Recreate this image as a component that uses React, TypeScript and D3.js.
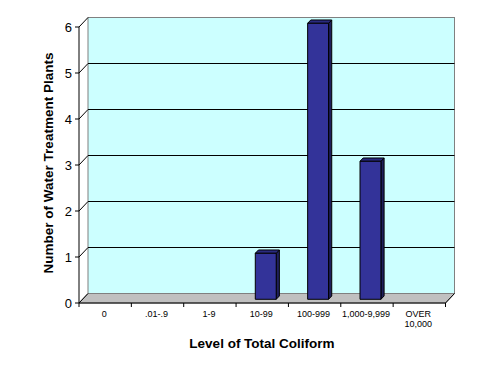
import React from 'react';
import * as d3 from 'd3';

const categories = ['0', '.01-.9', '1-9', '10-99', '100-999', '1,000-9,999', 'OVER\n10,000'];
const plantCounts = [0, 0, 0, 1, 6, 3, 0];
const yTicks = [0, 1, 2, 3, 4, 5, 6];

const W = 491;
const H = 374;
// 3D depth offset of the back wall
const DX = 9;
const DY = -9.5;

export default function App() {
  const x = d3.scaleBand<string>().domain(categories).range([79, 445.5]);
  const y = d3.scaleLinear().domain([0, 6]).range([303, 27]);

  const x0 = 79, x1 = 445.5;
  const y0 = y(0), yTop = y(6);

  // bars sit in the middle of the depth
  const fFront = 0.39, fBack = 0.74;
  const barW = x.bandwidth() * 0.4;

  const pts = (a: [number, number][]) => a.map(p => p.join(',')).join(' ');

  return (
    <svg width={W} height={H} style={{ position: 'absolute', left: 0, top: 0, background: '#fff' }}
      fontFamily="Arial, 'Liberation Sans', sans-serif">
      {/* back wall */}
      <rect x={x0 + DX} y={yTop + DY} width={x1 - x0} height={y0 - yTop} fill="#CCFFFF" stroke="#808080" strokeWidth={1} />
      {/* floor */}
      <polygon points={pts([[x0, y0], [x1, y0], [x1 + DX, y0 + DY], [x0 + DX, y0 + DY]])} fill="#C0C0C0" stroke="#808080" strokeWidth={1} />
      <line x1={x1} y1={y0} x2={x1 + DX} y2={y0 + DY} stroke="#000" />
      {/* gridlines with side-wall diagonals */}
      {yTicks.map(t => (
        <g key={t}>
          {t > 0 && t < 6 && (
            <line x1={x0 + DX} x2={x1 + DX} y1={y(t) + DY} y2={y(t) + DY} stroke="#000" strokeWidth={1} />
          )}
          <line x1={x0} y1={y(t)} x2={x0 + DX} y2={y(t) + DY} stroke="#000" strokeWidth={1} />
          <line x1={x0 - 4} x2={x0} y1={y(t)} y2={y(t)} stroke="#000" />
          <text x={x0 - 7} y={y(t)} dy="0.36em" textAnchor="end" fontSize={13}>{t}</text>
        </g>
      ))}
      {/* bars */}
      {categories.map((c, i) => {
        const v = plantCounts[i];
        if (!v) return null;
        const cx = (x(c) ?? 0) + x.bandwidth() / 2;
        const fx = cx - barW / 2 + DX * fFront;
        const fy0 = y0 + DY * fFront;
        const fyTop = y(v) + DY * fFront;
        const ddx = DX * (fBack - fFront);
        const ddy = DY * (fBack - fFront);
        return (
          <g key={c} stroke="#000" strokeWidth={1} strokeLinejoin="round">
            <polygon points={pts([[fx + barW, fy0], [fx + barW + ddx, fy0 + ddy], [fx + barW + ddx, fyTop + ddy], [fx + barW, fyTop]])} fill="#1f1f5c" />
            <polygon points={pts([[fx, fyTop], [fx + barW, fyTop], [fx + barW + ddx, fyTop + ddy], [fx + ddx, fyTop + ddy]])} fill="#2a2a80" />
            <rect x={fx} y={fyTop} width={barW} height={fy0 - fyTop} fill="#333399" />
          </g>
        );
      })}
      {/* front axes */}
      <line x1={x0} x2={x0} y1={yTop} y2={y0} stroke="#000" />
      <line x1={x0} x2={x1} y1={y0} y2={y0} stroke="#000" />
      {categories.map(c => (
        <line key={c} x1={x(c)! + x.bandwidth()} x2={x(c)! + x.bandwidth()} y1={y0} y2={y0 + 4} stroke="#000" />
      ))}
      <line x1={x0} x2={x0} y1={y0} y2={y0 + 4} stroke="#000" />
      {categories.map(c => (
        <text key={c} x={(x(c) ?? 0) + x.bandwidth() / 2 - 1} y={314} textAnchor="middle" fontSize={9}>
          {c.split('\n').map((line, k) => (
            <tspan key={k} x={(x(c) ?? 0) + x.bandwidth() / 2 - 1} dy={k === 0 ? '0.35em' : 10}>{line}</tspan>
          ))}
        </text>
      ))}
      <text x={262} y={343} dy="0.35em" textAnchor="middle" fontSize={13.5} fontWeight="bold">Level of Total Coliform</text>
      <text transform={`translate(48.5,163) rotate(-90)`} dy="0.35em" textAnchor="middle" fontSize={13.5} fontWeight="bold">
        Number of Water Treatment Plants
      </text>
    </svg>
  );
}
